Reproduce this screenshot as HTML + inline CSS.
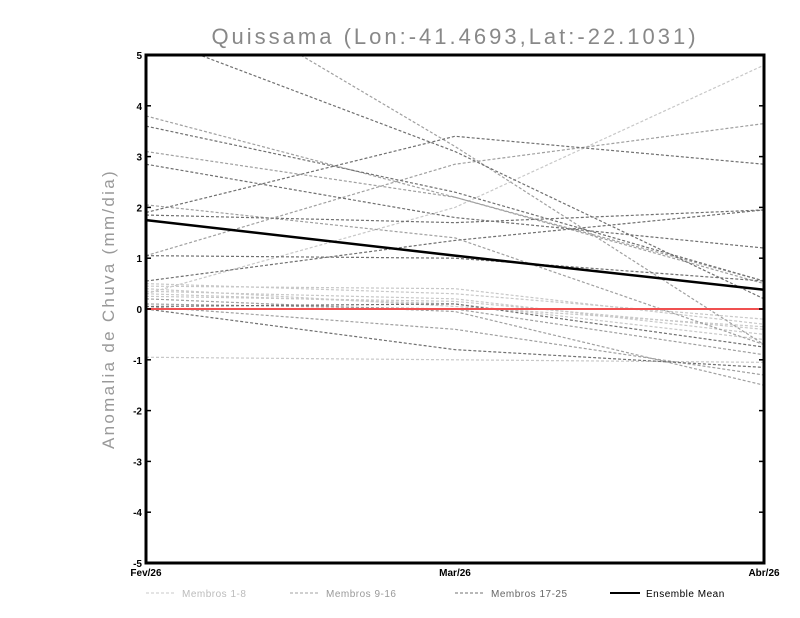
<!DOCTYPE html>
<html><head><meta charset="utf-8"><style>
body{margin:0;background:#fff;}
svg{display:block;font-family:"Liberation Sans",sans-serif;}
</style></head><body>
<svg id="chart" width="800" height="618">
<text x="455" y="44" text-anchor="middle" font-size="22" fill="#888" letter-spacing="3">Quissama (Lon:-41.4693,Lat:-22.1031)</text>
<text transform="translate(114,309) rotate(-90)" text-anchor="middle" font-size="17" fill="#999" letter-spacing="2.3">Anomalia de Chuva (mm/dia)</text>
<g id="marks"></g>
<g id="axes"></g>
<g id="legend"></g>
</svg>
<script>
const categories=["Fev/26","Mar/26","Abr/26"];
const yTicks=[-5,-4,-3,-2,-1,0,1,2,3,4,5];
const light=[[0.3,2.0,4.8],[-0.95,-1.0,-1.05],[0.45,0.4,-0.3],[0.35,0.2,-0.5],[0.5,0.3,-0.2],[0.3,0.1,-0.6],[0.25,0.15,-0.4],[0.4,0.05,-0.35]];
const medium=[[3.8,2.2,0.5],[1.05,2.85,3.65],[2.05,1.4,-0.7],[6.8,3.2,-0.7],[0.2,-0.05,-1.5],[0.05,-0.4,-1.3],[3.1,2.2,0.55],[0.1,0.0,-0.9]];
const dark=[[5.4,3.1,0.2],[3.6,2.3,0.55],[2.85,1.8,1.2],[1.9,3.4,2.85],[1.85,1.7,1.95],[1.05,1.0,0.55],[0.55,1.35,1.95],[0.0,-0.8,-1.15],[0.05,0.1,-0.75]];
const ensembleMean=[1.75,1.05,0.38];
const legendLabels=["Membros 1-8","Membros 9-16","Membros 17-25","Ensemble Mean"];

const NS="http://www.w3.org/2000/svg";
const X0=146,X1=764,Y0=55,Y1=563;
const xs=i=>X0+(X1-X0)*i/(categories.length-1);
const ys=v=>Y1-(v+5)/10*(Y1-Y0);
function mk(tag,attrs,parent){const e=document.createElementNS(NS,tag);for(const k in attrs)e.setAttribute(k,attrs[k]);parent.appendChild(e);return e;}
const marks=document.getElementById('marks'),axes=document.getElementById('axes'),legend=document.getElementById('legend');
const clip=mk('clipPath',{id:'pc'},marks);mk('rect',{x:X0,y:Y0,width:X1-X0,height:Y1-Y0},clip);
const g=mk('g',{'clip-path':'url(#pc)'},marks);
function series(arr,color,name){arr.forEach((s,k)=>{
 const p=mk('polyline',{points:s.map((v,i)=>xs(i)+','+ys(v)).join(' '),fill:'none',stroke:color,'stroke-width':1.2,'stroke-dasharray':'3,2'},g);
 
 
});}
series(light,'#c8c8c8','member-light');
series(medium,'#a0a0a0','member-medium');
series(dark,'#707070','member-dark');
const zl=mk('line',{x1:X0,x2:X1,y1:ys(0),y2:ys(0),stroke:'#f05050','stroke-width':2},g);


const em=mk('polyline',{points:ensembleMean.map((v,i)=>xs(i)+','+ys(v)).join(' '),fill:'none',stroke:'#000','stroke-width':2.5},g);


const fr=mk('rect',{x:X0,y:Y0,width:X1-X0,height:Y1-Y0,fill:'none',stroke:'#000','stroke-width':3},axes);


yTicks.forEach(t=>{
 mk('line',{x1:X0,x2:X0+5,y1:ys(t),y2:ys(t),stroke:'#000','stroke-width':1.5},axes);
 mk('line',{x1:X1,x2:X1-5,y1:ys(t),y2:ys(t),stroke:'#000','stroke-width':1.5},axes);
 const tx=mk('text',{x:X0-4,y:ys(t)+4,'text-anchor':'end','font-size':10,'font-weight':'bold'},axes);
 tx.textContent=t;
 
 
});
categories.forEach((c,i)=>{
 const tx=mk('text',{x:xs(i),y:576,'text-anchor':'middle','font-size':10,'font-weight':'bold'},axes);
 tx.textContent=c;
 
 
});
const lg=[[146,'#c8c8c8',1,'3,2','#bbb'],[290,'#a0a0a0',1,'3,2','#999'],[455,'#707070',1,'3,2','#666'],[610,'#000',2,'','#000']];
lg.forEach((L,i)=>{
 const gi=mk('g',{},legend);
 
 
 mk('line',{x1:L[0],x2:L[0]+30,y1:593,y2:593,stroke:L[1],'stroke-width':L[2],'stroke-dasharray':L[3]},gi);
 const t=mk('text',{x:L[0]+36,y:597,'font-size':10,fill:L[4],'letter-spacing':0.5},gi);
 t.textContent=legendLabels[i];
});
</script>
</body></html>
